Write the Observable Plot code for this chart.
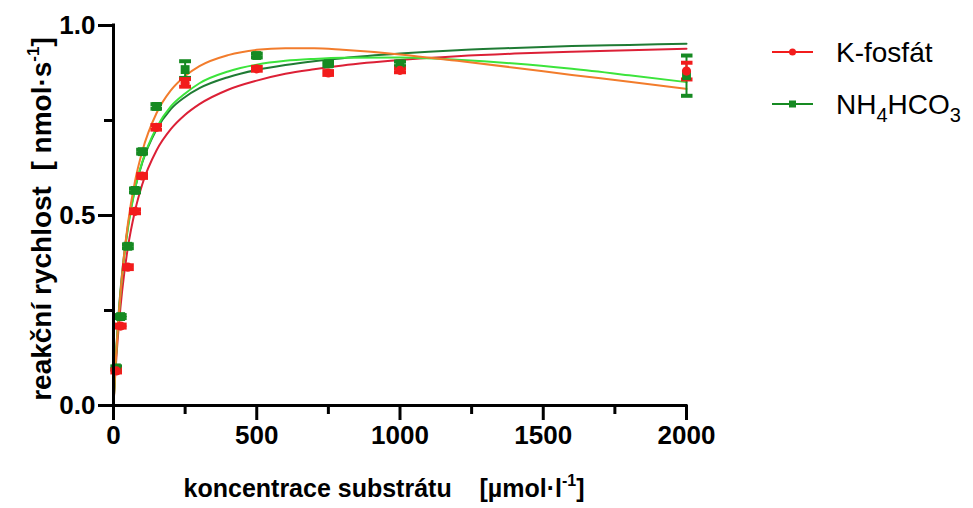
<!DOCTYPE html>
<html>
<head>
<meta charset="utf-8">
<script src="https://cdn.jsdelivr.net/npm/d3@7"></script>
<script src="https://cdn.jsdelivr.net/npm/@observablehq/plot@0.6"></script>
<style>
  html, body { margin: 0; padding: 0; background: #fff; }
  #chart { width: 973px; height: 508px; position: relative; }
  svg { font-family: "Liberation Sans", Arial, sans-serif; }
</style>
</head>
<body>
<div id="chart"></div>
<script>
// ---- measured data ----
const conc = [10, 25, 50, 75, 100, 150, 250, 500, 750, 1000, 2000];
const kFosfat    = [0.091, 0.209, 0.364, 0.511, 0.604, 0.732, 0.849, 0.886, 0.875, 0.882, 0.880];
const kFosfatErr = [0.004, 0.004, 0.005, 0.005, 0.005, 0.006, 0.010, 0.005, 0.005, 0.005, 0.022];
const nh4        = [0.099, 0.234, 0.419, 0.566, 0.668, 0.787, 0.884, 0.921, 0.899, 0.899, 0.868];
const nh4Err     = [0.004, 0.004, 0.005, 0.005, 0.005, 0.006, 0.022, 0.005, 0.005, 0.006, 0.053];

// ---- fitted curves ----
const fitX     = [0, 5, 10, 20, 30, 50, 75, 100, 150, 200, 250, 300, 400, 500, 600, 700, 800, 1000, 1200, 1400, 1600, 1800, 2000];
const fitKMM   = [0, 0.067, 0.126, 0.223, 0.300, 0.415, 0.512, 0.581, 0.671, 0.727, 0.765, 0.793, 0.831, 0.855, 0.873, 0.885, 0.895, 0.909, 0.919, 0.926, 0.931, 0.935, 0.939];
const fitKSI   = [0, 0.077, 0.144, 0.255, 0.344, 0.477, 0.590, 0.668, 0.769, 0.829, 0.867, 0.893, 0.922, 0.936, 0.940, 0.940, 0.936, 0.924, 0.907, 0.889, 0.870, 0.852, 0.833];
const fitNMM   = [0, 0.082, 0.152, 0.263, 0.348, 0.470, 0.570, 0.638, 0.726, 0.780, 0.812, 0.835, 0.864, 0.883, 0.896, 0.906, 0.914, 0.926, 0.935, 0.941, 0.946, 0.949, 0.952];
const fitNSI   = [0, 0.078, 0.145, 0.254, 0.339, 0.464, 0.569, 0.640, 0.731, 0.787, 0.821, 0.848, 0.879, 0.897, 0.907, 0.912, 0.915, 0.916, 0.910, 0.900, 0.886, 0.869, 0.851];

const xMajor = [0, 500, 1000, 1500, 2000];
const xMinor = [250, 750, 1250, 1750];
const yMajor = [0, 0.5, 1.0];
const yMinor = [0.25, 0.75];

const seriesNames = ["K-fosfát", "NH4HCO3"];

// ---- colours ----
const C = {
  red: "#f21c1c", green: "#168a22",
  kMM: "#dc2036", kSI: "#f27c2c", nMM: "#1f7b34", nSI: "#3ce43c"
};

// ---- tables ----
const pts = (ys, es) => conc.map((x, i) => ({x, y: ys[i], lo: ys[i] - es[i], hi: ys[i] + es[i]}));
const redPts = pts(kFosfat, kFosfatErr);
const greenPts = pts(nh4, nh4Err);
const curve = ys => fitX.map((x, i) => ({x, y: ys[i]}));

const font = {fontSize: 26, fontWeight: "bold"};

const plot = Plot.plot({
  width: 973,
  height: 508,
  marginLeft: 113,
  marginRight: 287,
  marginTop: 25,
  marginBottom: 103,
  style: {fontFamily: "Liberation Sans, Arial, sans-serif", color: "black", background: "white"},
  x: {domain: [0, 2000]},
  y: {domain: [0, 1]},
  marks: [
    // curves
    Plot.line(curve(fitKMM), {x: "x", y: "y", stroke: C.kMM, strokeWidth: 2, curve: "monotone-x"}),
    Plot.line(curve(fitNMM), {x: "x", y: "y", stroke: C.nMM, strokeWidth: 2, curve: "monotone-x"}),
    Plot.line(curve(fitNSI), {x: "x", y: "y", stroke: C.nSI, strokeWidth: 2, curve: "monotone-x"}),
    Plot.line(curve(fitKSI), {x: "x", y: "y", stroke: C.kSI, strokeWidth: 2, curve: "monotone-x"}),
    // error bars
    Plot.link(greenPts, {x1: "x", x2: "x", y1: "lo", y2: "hi", stroke: C.green, strokeWidth: 2, markerStart: "tick", markerEnd: "tick"}),
    Plot.link(redPts, {x1: "x", x2: "x", y1: "lo", y2: "hi", stroke: C.red, strokeWidth: 2, markerStart: "tick", markerEnd: "tick"}),
    // points
    Plot.dot(greenPts, {x: "x", y: "y", symbol: "square", r: 5, fill: C.green}),
    Plot.dot(redPts, {x: "x", y: "y", symbol: "circle", r: 4.6, fill: C.red}),
    // axes
    Plot.axisX({ticks: xMajor, tickSize: 15, tickPadding: 5, strokeWidth: 3, label: null, tickFormat: d => String(d), ...font}),
    Plot.axisX({ticks: xMinor, tickSize: 9, strokeWidth: 3, label: null, tickFormat: () => ""}),
    Plot.axisY({ticks: yMajor, tickSize: 15, tickPadding: 3, strokeWidth: 3, label: null, tickFormat: d3.format(".1f"), ...font}),
    Plot.axisY({ticks: yMinor, tickSize: 9, strokeWidth: 3, label: null, tickFormat: () => ""}),
    Plot.ruleX([0], {strokeWidth: 3, strokeLinecap: "square"}),
    Plot.ruleY([0], {strokeWidth: 3, strokeLinecap: "square"})
  ]
});

document.getElementById("chart").appendChild(plot);

// ---- axis titles & legend (text layer) ----
const svg = d3.select(plot);
const ff = "Liberation Sans, Arial, sans-serif";

const xt = svg.append("text")
  .attr("x", 384).attr("y", 497)
  .attr("text-anchor", "middle")
  .attr("font-family", ff).attr("font-size", 25).attr("font-weight", "bold")
  .style("white-space", "pre");
xt.append("tspan").text("koncentrace substrátu    [µmol·l");
xt.append("tspan").attr("dy", -11).attr("font-size", 16).text("-1");
xt.append("tspan").attr("dy", 11).text("]");

const yt = svg.append("text")
  .attr("transform", "translate(51,219) rotate(-90)")
  .attr("text-anchor", "middle")
  .attr("font-family", ff).attr("font-size", 28).attr("font-weight", "bold")
  .style("white-space", "pre");
yt.append("tspan").text("reakční rychlost  [ nmol·s");
yt.append("tspan").attr("dy", -12).attr("font-size", 17).text("-1");
yt.append("tspan").attr("dy", 12).text("]");

// legend
const leg = svg.append("g").attr("text-anchor", "start");
const items = [
  {name: seriesNames[0], color: C.red, sym: "circle", y: 52},
  {name: seriesNames[1], color: C.green, sym: "square", y: 104}
];
items.forEach(it => {
  leg.append("line").attr("x1", 772).attr("x2", 813).attr("y1", it.y).attr("y2", it.y)
    .attr("stroke", it.color).attr("stroke-width", 2);
  if (it.sym === "circle") {
    leg.append("circle").attr("cx", 792.5).attr("cy", it.y).attr("r", 3.5).attr("fill", it.color);
  } else {
    leg.append("rect").attr("x", 789).attr("y", it.y - 3.5).attr("width", 7).attr("height", 7).attr("fill", it.color);
  }
});
leg.append("text").attr("x", 836).attr("y", 62)
  .attr("font-family", ff).attr("font-size", 28).text(items[0].name);
const nt = leg.append("text").attr("x", 836).attr("y", 114)
  .attr("font-family", ff).attr("font-size", 28);
nt.append("tspan").text("NH");
nt.append("tspan").attr("dy", 8).attr("font-size", 20).text("4");
nt.append("tspan").attr("dy", -8).text("HCO");
nt.append("tspan").attr("dy", 8).attr("font-size", 20).text("3");
</script>
</body>
</html>
